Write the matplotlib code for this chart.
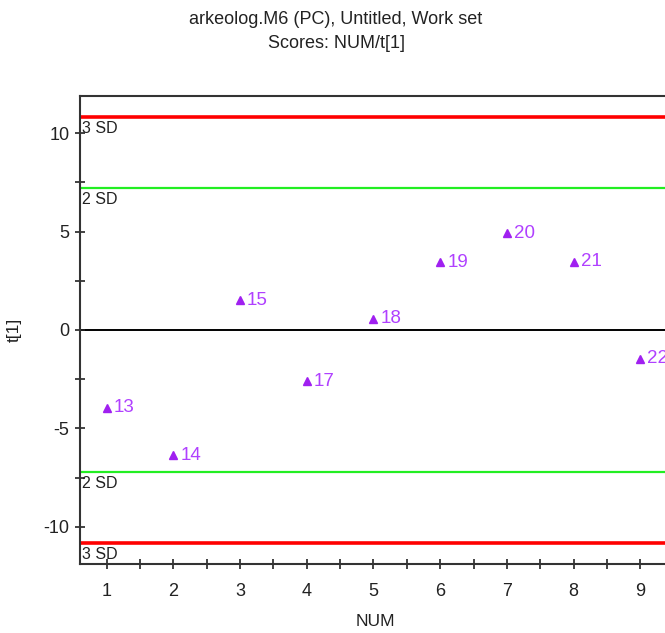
import numpy as np
import matplotlib
matplotlib.use("Agg")
import matplotlib.pyplot as plt
from matplotlib.ticker import MultipleLocator

# scores t[1] against observation number
num = [1, 2, 3, 4, 5, 6, 7, 8, 9]
t1 = [-3.95, -6.35, 1.5, -2.6, 0.58, 3.45, 4.9, 3.47, -1.47]
labels = ["13", "14", "15", "17", "18", "19", "20", "21", "22"]

sd2 = 7.2
sd3 = 10.8

plt.rcParams['font.family'] = ['Liberation Sans', 'DejaVu Sans']
plt.rcParams['axes.unicode_minus'] = False

W, H = 665, 633
fig = plt.figure(figsize=(W / 100, H / 100), dpi=100)
# axes right edge runs slightly off the canvas, as in the original
ax = fig.add_axes([80 / W, 69 / H, 591 / W, 468 / H])

ax.set_xlim(0.6, 9.46)
ax.set_ylim(-11.88, 11.88)

ax.axhline(0, color='black', lw=1.4, zorder=1)
for s in (sd3, -sd3):
    ax.axhline(s, color='#ff0000', lw=2.6, zorder=1)
for s in (sd2, -sd2):
    ax.axhline(s, color='#22ee22', lw=1.6, zorder=1)

ax.text(0.63, sd3 - 0.2, "3 SD", fontsize=11.5, va='top', ha='left', color='#222222')
ax.text(0.63, sd2 - 0.2, "2 SD", fontsize=11.5, va='top', ha='left', color='#222222')
ax.text(0.63, -sd2 - 0.2, "2 SD", fontsize=11.5, va='top', ha='left', color='#222222')
ax.text(0.63, -sd3 - 0.2, "3 SD", fontsize=11.5, va='top', ha='left', color='#222222')

ax.plot(num, t1, linestyle='none', marker='^', markersize=6,
        color='#a020f0', zorder=3)
for x, y, lab in zip(num, t1, labels):
    ax.annotate(lab, (x, y), xytext=(5, 0), textcoords='offset points',
                va='center', ha='left', fontsize=13.5, color='#b040ff',
                annotation_clip=False)

ax.xaxis.set_major_locator(MultipleLocator(1))
ax.xaxis.set_minor_locator(MultipleLocator(0.5))
ax.yaxis.set_major_locator(MultipleLocator(5))
ax.yaxis.set_minor_locator(MultipleLocator(2.5))
ax.tick_params(which='both', direction='inout', length=7, width=1.2,
               color='#222222', labelsize=13, labelcolor='#222222')
ax.tick_params(axis='x', pad=10)
ax.tick_params(axis='y', pad=4)

for side in ('top', 'left', 'bottom', 'right'):
    ax.spines[side].set_color('#333333')
    ax.spines[side].set_linewidth(1.5)

ax.set_xlabel("NUM", fontsize=12.5, color='#222222', labelpad=10)
ax.set_ylabel("t[1]", fontsize=12.5, color='#222222', labelpad=16)

fig.text(336 / W, 1 - 19 / H, "arkeolog.M6 (PC), Untitled, Work set",
         ha='center', va='center', fontsize=13, color='#222222')
fig.text(336 / W, 1 - 44 / H, "Scores: NUM/t[1]",
         ha='center', va='center', fontsize=13, color='#222222')

fig.savefig("out.png", dpi=100)
